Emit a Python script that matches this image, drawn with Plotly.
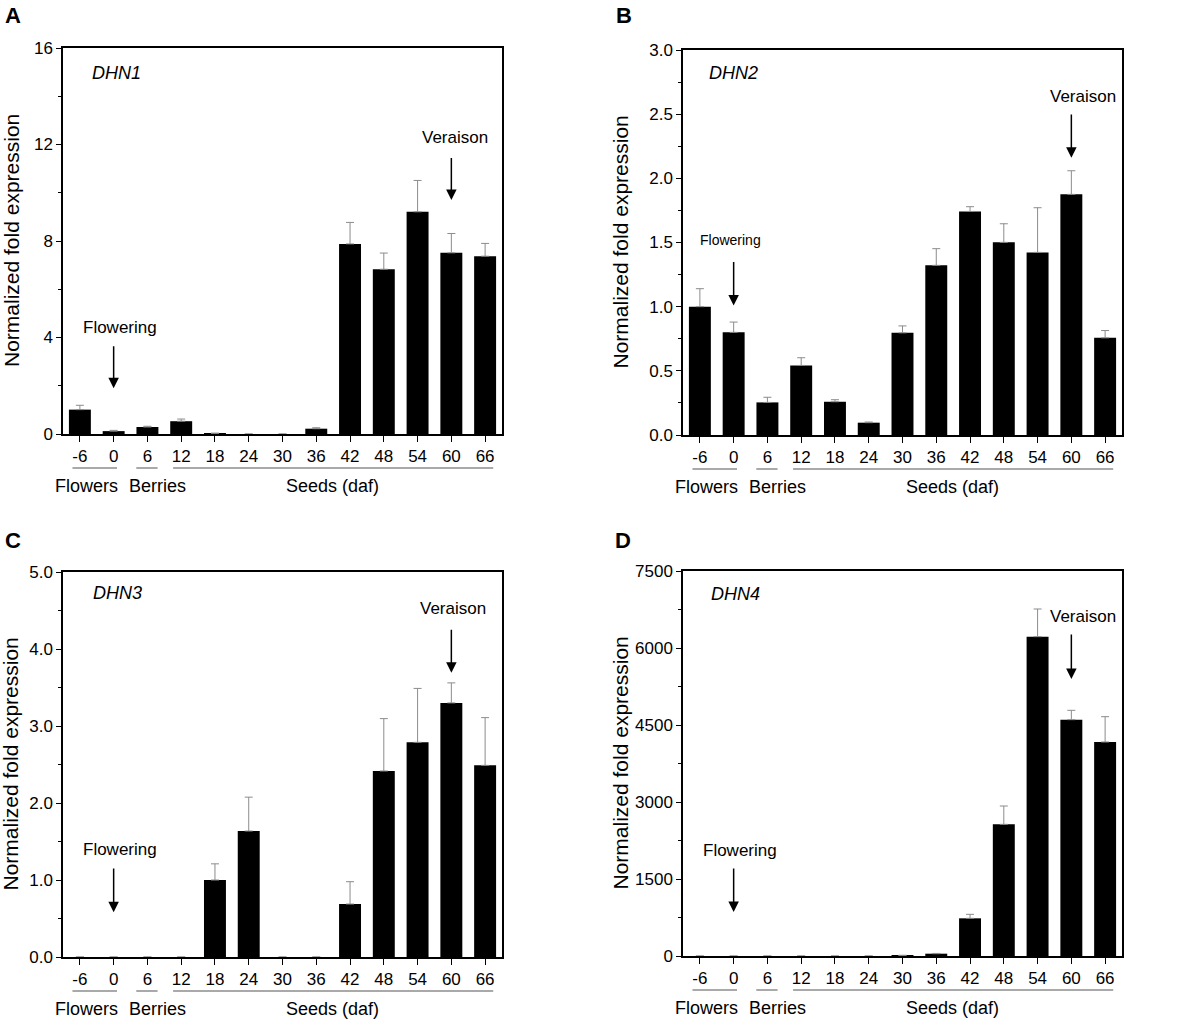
import plotly.graph_objects as go

# ---------------- data ----------------
categories = ["-6", "0", "6", "12", "18", "24", "30", "36", "42", "48", "54", "60", "66"]

dhn1 = [1.01, 0.12, 0.29, 0.53, 0.03, 0.0, 0.0, 0.22, 7.88, 6.83, 9.21, 7.51, 7.37]
dhn1_err = [0.18, 0.03, 0.03, 0.09, None, None, None, 0.04, 0.89, 0.67, 1.30, 0.80, 0.53]

dhn2 = [1.00, 0.80, 0.254, 0.542, 0.259, 0.096, 0.796, 1.322, 1.742, 1.501, 1.423, 1.875, 0.757]
dhn2_err = [0.14, 0.08, 0.04, 0.06, 0.016, 0.005, 0.054, 0.13, 0.037, 0.145, 0.348, 0.184, 0.057]

dhn3 = [0.0, 0.0, 0.0, 0.0, 1.00, 1.636, 0.0, 0.0, 0.688, 2.416, 2.788, 3.30, 2.489]
dhn3_err = [None, None, None, None, 0.21, 0.44, None, None, 0.29, 0.68, 0.70, 0.26, 0.62]

dhn4 = [0, 0, 0, 0, 0, 0, 12, 45, 734, 2565, 6221, 4604, 4169]
dhn4_err = [None, None, None, None, None, None, None, 5, 78, 357, 539, 182, 493]

gene_names = ["DHN1", "DHN2", "DHN3", "DHN4"]
panel_letters = ["A", "B", "C", "D"]
y_max = [16, 3.0, 5.0, 7500]
y_dtick = [4, 0.5, 1.0, 1500]
y_format = ["d", ".1f", ".1f", "d"]

group_names = ["Flowers", "Berries", "Seeds (daf)"]
group_start = [-0.22, 1.67, 2.76]
group_end = [1.10, 2.30, 12.24]
group_label_x = [0.20, 2.31, 7.47]

FONT = "Liberation Sans, Arial, Helvetica, sans-serif"
GREY = "#8c8c8c"

# ---------------- layout geometry (pixels -> paper) ----------------
W, H = 1200, 1019
panels = [
    dict(x0=63, x1=502, top=48, bottom=434),
    dict(x0=683, x1=1122, top=50, bottom=435),
    dict(x0=63, x1=502, top=572, bottom=957),
    dict(x0=683, x1=1122, top=571, bottom=956),
]

series = [(dhn1, dhn1_err), (dhn2, dhn2_err), (dhn3, dhn3_err), (dhn4, dhn4_err)]
xs = list(range(len(categories)))

fig = go.Figure()
layout = dict(
    width=W, height=H,
    margin=dict(l=0, r=0, t=0, b=0, pad=0),
    paper_bgcolor="white", plot_bgcolor="white",
    showlegend=False,
    font=dict(family=FONT, size=17, color="black"),
    annotations=[], shapes=[],
)

# annotation positions (data units) per panel
gene_pos = [(0.30, 14.98), (0.21, 2.82), (0.33, 4.73), (0.28, 7052)]
flow_txt = [(1.19, 4.4, 17), (0.92, 1.52, 14), (1.19, 1.39, 17), (1.20, 2065, 17)]
flow_arrow = [(3.7, 1.9), (1.36, 1.01), (1.17, 0.58), (1734, 857)]
ver_txt = [(11.11, 12.3), (11.34, 2.64), (11.05, 4.52), (11.35, 6604)]
ver_arrow = [(11.5, 9.7), (2.51, 2.16), (4.27, 3.69), (6292, 5396)]
letter_pos = [(3, 15), (614, 15), (3, 540), (613, 540)]
ytitle_x = [11, 620, 10, 620]

for i, p in enumerate(panels):
    n = "" if i == 0 else str(i + 1)
    xa, ya = "x" + n, "y" + n
    vals, errs = series[i]
    minus = [0 if e is not None else None for e in errs]
    fig.add_trace(go.Bar(
        x=xs, y=vals, xaxis=xa, yaxis=ya, width=0.65,
        marker=dict(color="black", line=dict(width=0)),
        error_y=dict(type="data", symmetric=False, array=errs,
                     arrayminus=minus, color=GREY,
                     thickness=1, width=4),
    ))
    dom_x = [p["x0"] / W, p["x1"] / W]
    dom_y = [1 - p["bottom"] / H, 1 - p["top"] / H]
    layout["xaxis" + n] = dict(
        domain=dom_x, anchor=ya, range=[-0.5, len(categories) - 0.5],
        tickvals=xs, ticktext=categories, ticks="outside", ticklen=6,
        tickwidth=1.2, tickcolor="black", showline=True, linecolor="black",
        linewidth=1.5, mirror=True, showgrid=False, zeroline=False,
        tickfont=dict(size=17, family=FONT), fixedrange=True, automargin=False,
    )
    layout["yaxis" + n] = dict(
        domain=dom_y, anchor=xa, range=[0, y_max[i]], dtick=y_dtick[i],
        tick0=0, tickformat=y_format[i], ticks="outside", ticklen=5,
        tickwidth=1.2, tickcolor="black", showline=True, linecolor="black",
        linewidth=1.5, mirror=True, showgrid=False, zeroline=False,
        tickfont=dict(size=17, family=FONT), automargin=False,
        minor=dict(ticks="outside", ticklen=3, dtick=y_dtick[i] / 2,
                   tickcolor="black", tickwidth=1),
    )
    ann = layout["annotations"]
    ann.append(dict(x=gene_pos[i][0], y=gene_pos[i][1], xref=xa, yref=ya,
                    text="<i>%s</i>" % gene_names[i], showarrow=False,
                    xanchor="left", yanchor="middle",
                    font=dict(size=18, family=FONT)))
    ann.append(dict(x=flow_txt[i][0], y=flow_txt[i][1], xref=xa, yref=ya,
                    text="Flowering", showarrow=False, xanchor="center",
                    yanchor="middle", font=dict(size=flow_txt[i][2], family=FONT)))
    ann.append(dict(x=1, y=flow_arrow[i][1], ax=1, ay=flow_arrow[i][0],
                    xref=xa, yref=ya, axref=xa, ayref=ya, text="",
                    showarrow=True, arrowhead=2, arrowsize=1.4,
                    arrowwidth=1.5, arrowcolor="black"))
    ann.append(dict(x=ver_txt[i][0], y=ver_txt[i][1], xref=xa, yref=ya,
                    text="Veraison", showarrow=False, xanchor="center",
                    yanchor="middle", font=dict(size=17, family=FONT)))
    ann.append(dict(x=11, y=ver_arrow[i][1], ax=11, ay=ver_arrow[i][0],
                    xref=xa, yref=ya, axref=xa, ayref=ya, text="",
                    showarrow=True, arrowhead=2, arrowsize=1.4,
                    arrowwidth=1.5, arrowcolor="black"))
    ann.append(dict(x=letter_pos[i][0] / W, y=1 - letter_pos[i][1] / H,
                    xref="paper", yref="paper", text="<b>%s</b>" % panel_letters[i],
                    showarrow=False, xanchor="left", yanchor="middle",
                    font=dict(size=22, family=FONT)))
    ann.append(dict(x=ytitle_x[i] / W, y=1 - (p["top"] + p["bottom"]) / 2 / H,
                    xref="paper", yref="paper", text="Normalized fold expression",
                    textangle=-90, showarrow=False, xanchor="center",
                    yanchor="middle", font=dict(size=21, family=FONT)))
    line_y = 1 - (p["bottom"] + 34) / H
    label_y = 1 - (p["bottom"] + 52) / H
    for g in range(len(group_names)):
        layout["shapes"].append(dict(type="line", xref=xa, yref="paper",
                                     x0=group_start[g], x1=group_end[g],
                                     y0=line_y, y1=line_y,
                                     line=dict(color=GREY, width=1.5)))
        ann.append(dict(x=group_label_x[g], y=label_y, xref=xa, yref="paper",
                        text=group_names[g], showarrow=False,
                        xanchor="center", yanchor="middle",
                        font=dict(size=18, family=FONT)))

fig.update_layout(**layout)
fig.write_html("out.html",
               config={"displayModeBar": False},
               post_script="document.body.style.margin='0px';"
                           "document.body.style.overflow='hidden';")
